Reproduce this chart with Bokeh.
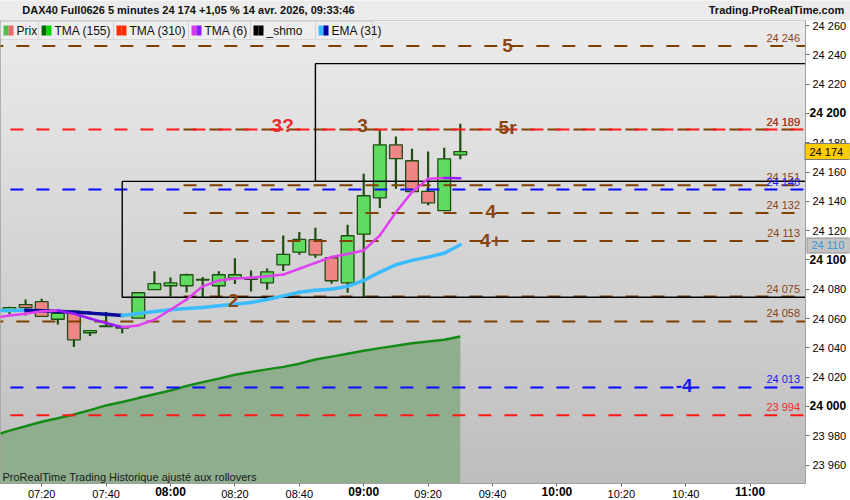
import numpy as np
import pandas as pd
from bokeh.plotting import figure
from bokeh.models import (Range1d, Label, BoxAnnotation, CustomJSTickFormatter,
                          FixedTicker, ColumnDataSource, LinearAxis, DatetimeAxis)
from bokeh.core.properties import value
from bokeh.embed import file_html
from bokeh.resources import INLINE

# ---------------- data ----------------
DAY = "2026-04-14 "
candle_times = ["07:10", "07:15", "07:20", "07:25", "07:30", "07:35", "07:40", "07:45", "07:50", "07:55",
                "08:00", "08:05", "08:10", "08:15", "08:20", "08:25", "08:30", "08:35", "08:40", "08:45",
                "08:50", "08:55", "09:00", "09:05", "09:10", "09:15", "09:20", "09:25", "09:30"]
opens = [24065.0, 24069.5, 24071.5, 24059.5, 24065.0, 24050.3, 24054.5, 24053.5, 24060.3, 24079.7,
         24082.4, 24082.4, 24086.3, 24082.4, 24087.6, 24086.7, 24084.4, 24096.7, 24105.3, 24113.8,
         24101.5, 24084.4, 24117.6, 24142.4, 24178.6, 24167.7, 24146.8, 24133.6, 24171.7]
highs = [24068.0, 24073.0, 24073.5, 24065.0, 24065.5, 24052.0, 24064.5, 24055.0, 24077.6, 24092.2,
         24088.0, 24090.6, 24088.3, 24092.2, 24101.2, 24092.8, 24094.2, 24116.7, 24119.0, 24122.0,
         24101.5, 24124.0, 24158.8, 24188.9, 24184.3, 24175.9, 24174.0, 24176.6, 24193.0]
lows = [24063.0, 24062.0, 24061.5, 24056.0, 24040.5, 24048.0, 24054.5, 24050.0, 24060.3, 24079.7,
        24075.0, 24078.0, 24074.6, 24075.0, 24083.5, 24078.5, 24079.7, 24092.4, 24103.5, 24101.5,
        24083.7, 24077.6, 24074.6, 24135.4, 24148.6, 24146.6, 24137.4, 24133.6, 24168.8]
closes = [24067.5, 24067.5, 24061.5, 24063.5, 24045.5, 24051.7, 24055.0, 24054.2, 24077.6, 24083.8,
          24084.4, 24089.9, 24086.7, 24089.9, 24089.9, 24087.0, 24091.9, 24103.8, 24114.0, 24103.5,
          24085.8, 24116.5, 24143.8, 24178.6, 24169.1, 24146.6, 24139.0, 24169.0, 24174.0]

line_times = ["07:05"] + candle_times
tma6 = [24060.5, 24062.0, 24063.3, 24065.0, 24065.5, 24063.3, 24060.0, 24056.9, 24054.1, 24055.3,
        24059.2, 24066.0, 24073.0, 24082.0, 24086.0, 24087.3, 24087.8, 24088.8, 24090.0, 24094.0,
        24098.0, 24102.0, 24104.0, 24106.5, 24116.7, 24132.6, 24146.3, 24155.4, 24156.0, 24155.8]
ema31 = [24065.4, 24065.5, 24065.6, 24065.3, 24065.0, 24064.3, 24063.7, 24062.9, 24062.1, 24063.5,
         24064.8, 24066.0, 24066.8, 24067.5, 24068.7, 24069.8, 24071.0, 24073.0, 24075.5, 24078.0,
         24079.3, 24080.0, 24082.0, 24086.0, 24091.7, 24096.7, 24099.7, 24101.9, 24104.6, 24110.4]
tma155 = [23980.0, 23983.5, 23986.5, 23989.5, 23992.0, 23994.5, 23997.5, 24000.7, 24003.0, 24005.7,
          24008.3, 24010.9, 24014.0, 24016.6, 24019.0, 24021.6, 24023.5, 24025.3, 24027.0, 24029.1,
          24032.0, 24034.0, 24036.0, 24038.0, 24039.8, 24041.5, 24043.2, 24044.3, 24045.5, 24047.8]

brown_levels = [24246, 24189, 24151, 24132, 24113, 24075, 24058]
brown_starts = ["07:00", "08:00", "08:00", "08:00", "08:00", "08:00", "07:00"]
blue_levels = [24148, 24013]
red_levels = [24189, 23994]

level_label_values = [24189, 24246, 24189, 24151, 24148, 24132, 24113, 24075, 24058, 24013, 23994]
level_label_kind = ["red", "brown", "brown", "brown", "blue", "brown", "brown", "brown", "brown", "blue", "red"]

box_left = ["07:45", "08:45"]
box_top = [24153.6, 24234.0]
box_bottom = [24074.5, 24153.6]

wave_text = ["5", "3?", "3", "5r", "4", "4+", "2", "-4"]
wave_time = ["09:44:40", "08:34:50", "08:59:40", "09:44:40", "09:39:30", "09:39:30", "08:19:30", "10:39:30"]
wave_price = [24246.4, 24191.8, 24191.8, 24190.4, 24133.0, 24113.3, 24072.4, 24014.3]
wave_kind = ["brown", "red", "brown", "brown", "brown", "brown", "brown", "blue"]

y_ticks = list(range(23960, 24261, 20))
x_tick_labels = ["07:20", "07:40", "08:00", "08:20", "08:40", "09:00", "09:20", "09:40",
                 "10:00", "10:20", "10:40", "11:00"]

last_price = 24174
ema_last = 24110
title_text = "DAX40 Full0626 5 minutes 24 174 +1,05 % 14 avr. 2026, 09:33:46"
site_text = "Trading.ProRealTime.com"
legend_items = ["Prix", "TMA (155)", "TMA (310)", "TMA (6)", "_shmo", "EMA (31)"]
legend_swatch = [("#4cc04c", "#e46a6a"), ("#006a00", "#00d800"), ("#ff2a00", "#ff2a00"),
                 ("#d83ce8", "#8a1aff"), ("#000000", "#000000"), ("#3cbcff", "#0000a8")]

# ---------------- helpers ----------------
def T(s):
    return pd.Timestamp(DAY + s)


def ms(ts):
    return ts.value / 1e6


def sp(v):
    return f"{v:,}".replace(",", " ")


COL = {"brown": "#8b4513", "red": "#ee2a2a", "blue": "#1a1af0"}
LINE_COL = {"brown": "#804000", "red": "#ff1a1a", "blue": "#0a0aff"}
FONT = value("Liberation Sans")

FIVE = pd.Timedelta(minutes=5)
t0 = T(candle_times[0])
W_F, H_F = 805, 463
MB_R, MB_T, MB_B = 45, 20, 17
x_start = t0 - 0.56 * FIVE
x_end = x_start + (W_F / 16.1) * FIVE
y_start, y_end = 23947.4, 23947.4 + H_F / 1.465


def SY(py):
    # reference pixel row -> frame-relative screen y (from bottom)
    return H_F - (py - 20)


p = figure(frame_width=W_F, frame_height=H_F, x_axis_type="datetime", y_axis_location="right",
           x_range=Range1d(x_start, x_end), y_range=Range1d(y_start, y_end),
           output_backend="svg", toolbar_location=None,
           min_border_left=0, min_border_right=MB_R, min_border_top=MB_T, min_border_bottom=MB_B)
p.extra_x_ranges = {"hdr": Range1d(0, W_F)}
p.grid.visible = False
p.outline_line_color = "#a0a0a0"
p.border_fill_color = "white"
p.background_fill_color = "#d6d6d6"

# background gradient
N = 200
img = np.empty((N, 1), dtype=np.uint32)
view = img.view(dtype=np.uint8).reshape((N, 1, 4))
top_c = np.array([236, 236, 236])
bot_c = np.array([190, 190, 190])
for i in range(N):
    f = i / (N - 1)
    c = bot_c + f * (top_c - bot_c)
    view[i, 0, 0:3] = c.astype(np.uint8)
    view[i, 0, 3] = 255
p.image_rgba(image=[img], x=ms(x_start), y=y_start, dw=ms(x_end) - ms(x_start), dh=y_end - y_start)

# TMA 155 area + line
lt = [T(s) for s in line_times]
p.varea(x=lt, y1=[y_start - 50] * len(lt), y2=tma155, fill_color="#8fae8e")
p.line(x=lt, y=tma155, line_color="#168a16", line_width=2.5)

# candles
ct = [T(s) for s in candle_times]
up = [c >= o for o, c in zip(opens, closes)]
src = ColumnDataSource(dict(
    t=ct, o=opens, h=highs, l=lows, c=closes,
    top=[max(o, c) for o, c in zip(opens, closes)],
    bottom=[min(o, c) for o, c in zip(opens, closes)],
    color=["#5fdc5f" if u else "#f08585" for u in up]))
p.segment(x0="t", y0="l", x1="t", y1="h", source=src, line_color="#1f4f10", line_width=2.2)
p.vbar(x="t", width=0.79 * 300000, top="top", bottom="bottom", source=src,
       fill_color="color", line_color="#1f4f10", line_width=1.3)

# horizontal levels
p.segment(x0=[T(s) for s in brown_starts], x1=[x_end] * len(brown_levels),
          y0=brown_levels, y1=brown_levels, line_color=LINE_COL["brown"], line_width=2,
          line_dash="13 13", line_dash_offset=13)
p.segment(x0=[x_start - FIVE] * len(blue_levels), x1=[x_end] * len(blue_levels),
          y0=blue_levels, y1=blue_levels, line_color=LINE_COL["blue"], line_width=2, line_dash="13 13")
p.segment(x0=[x_start - FIVE] * len(red_levels), x1=[x_end] * len(red_levels),
          y0=red_levels, y1=red_levels, line_color=LINE_COL["red"], line_width=2, line_dash="13 13")

# _shmo boxes
p.quad(left=[T(s) for s in box_left], right=[x_end + FIVE] * len(box_left), top=box_top, bottom=box_bottom,
       fill_alpha=0, line_color="black", line_width=1.4)

# EMA 31 (light when rising, dark when falling)
ema_col = ["#3cbcff" if b >= a else "#0a0a9a" for a, b in zip(ema31[:-1], ema31[1:])]
p.segment(x0=lt[:-1], x1=lt[1:], y0=ema31[:-1], y1=ema31[1:], line_color=ema_col,
          line_width=3.5, line_cap="round")
# TMA 6
tma_col = ["#e040f0" if b >= a else "#9a1aff" for a, b in zip(tma6[:-1], tma6[1:])]
p.segment(x0=lt[:-1], x1=lt[1:], y0=tma6[:-1], y1=tma6[1:], line_color=tma_col,
          line_width=2.5, line_cap="round")

# level labels near right edge
label_x = t0 + 49.1 * FIVE
p.text(x=[label_x] * len(level_label_values), y=level_label_values,
       text=[sp(v) for v in level_label_values],
       text_color=[COL[k] for k in level_label_kind], text_font=FONT, text_font_size="11px",
       text_align="right", text_baseline="bottom", y_offset=-2)

# wave labels
p.text(x=[T(s) for s in wave_time], y=wave_price, text=wave_text,
       text_color=[COL[k] for k in wave_kind], text_font=FONT, text_font_style="bold",
       text_font_size="19px", text_align="center", text_baseline="middle")

# ---------------- axes ----------------
FMT_Y = """
const v = Math.round(tick);
if (blank) return "";
if (blank_round && v % 100 == 0) return "";
const s = String(v);
return s.slice(0, s.length - 3) + " " + s.slice(s.length - 3);
"""
FMT_X = """
const d = new Date(tick);
const h = d.getUTCHours(), m = d.getUTCMinutes();
if (blank_round && m == 0) return "";
const pad = (n) => (n < 10 ? "0" : "") + n;
return pad(h) + ":" + pad(m);
"""


def yfmt(blank=False, blank_round=False):
    return CustomJSTickFormatter(args=dict(blank=blank, blank_round=blank_round), code=FMT_Y)


def plain_axis(ax):
    ax.axis_line_color = None
    ax.major_tick_line_color = None
    ax.minor_tick_line_color = None
    ax.major_tick_out = 0
    ax.major_tick_in = 0
    ax.major_label_text_font = "Liberation Sans"
    ax.major_label_text_color = "black"


# main right axis (normal labels)
ya = p.yaxis[0]
ya.ticker = FixedTicker(ticks=y_ticks)
ya.formatter = yfmt(blank_round=True)
ya.major_label_text_font = "Liberation Sans"
ya.major_label_text_font_size = "11px"
ya.major_label_text_color = "#000000"
ya.major_tick_out = 4
ya.major_tick_in = 0
ya.minor_tick_line_color = None
ya.major_label_standoff = 3
ya.axis_line_color = "#a0a0a0"
ya.major_tick_line_color = "#707070"

# bold round-number labels, pulled back over the main axis
yb = LinearAxis(ticker=FixedTicker(ticks=[v for v in y_ticks if v % 100 == 0]), formatter=yfmt())
plain_axis(yb)
yb.major_label_text_font_size = "12px"
yb.major_label_text_font_style = "bold"
yb.major_label_standoff = -40
p.add_layout(yb, "right")


def price_tag(val, fill, border, text_color, h, reach):
    # border box (wide inward tick), then filled box + label
    brd = LinearAxis(ticker=FixedTicker(ticks=[val]), formatter=yfmt(blank=True))
    plain_axis(brd)
    brd.major_tick_line_color = border
    brd.major_tick_line_width = h + 2
    brd.major_tick_in = reach + 1
    brd.major_label_standoff = 0
    p.add_layout(brd, "right")
    tag = LinearAxis(ticker=FixedTicker(ticks=[val]), formatter=yfmt())
    plain_axis(tag)
    tag.major_tick_line_color = fill
    tag.major_tick_line_width = h
    tag.major_tick_in = reach
    tag.major_label_text_font_size = "11px"
    tag.major_label_text_color = text_color
    tag.major_label_standoff = -40 if reach > 43 else -38
    p.add_layout(tag, "right")


price_tag(last_price, "#ffcc00", "#7a7a7a", "#000000", 15, 44)
price_tag(ema_last, "#c4c4c4", "#909090", "#2f9ad8", 14, 42)

# x axis (normal labels)
xa = p.xaxis[0]
x_tick_ts = [T(s) for s in x_tick_labels]
xa.ticker = FixedTicker(ticks=[ms(t) for t in x_tick_ts])
xa.formatter = CustomJSTickFormatter(args=dict(blank_round=True), code=FMT_X)
xa.major_label_text_font = "Liberation Sans"
xa.major_label_text_font_size = "11px"
xa.major_label_text_color = "#000000"
xa.major_tick_out = 3
xa.major_tick_in = 0
xa.minor_tick_line_color = None
xa.major_label_standoff = 1
xa.axis_line_color = "#a0a0a0"
xa.major_tick_line_color = "#707070"

# bold full hours, pulled back up
xb = DatetimeAxis(ticker=FixedTicker(ticks=[ms(t) for s, t in zip(x_tick_labels, x_tick_ts) if s.endswith(":00")]),
                  formatter=CustomJSTickFormatter(args=dict(blank_round=False), code=FMT_X))
plain_axis(xb)
xb.major_label_text_font_size = "12px"
xb.major_label_text_font_style = "bold"
xb.major_label_standoff = -18
p.add_layout(xb, "below")

# header line as an axis above the frame (wide ticks paint the header band)
hdr = LinearAxis(x_range_name="hdr", ticker=FixedTicker(ticks=[188, 776]),
                 formatter=CustomJSTickFormatter(args=dict(labels=[title_text, site_text]),
                                                 code="return labels[index];"))
plain_axis(hdr)
hdr.major_tick_out = 20
hdr.major_tick_line_color = "#ececec"
hdr.major_tick_line_width = 900
hdr.major_label_text_font_size = "11px"
hdr.major_label_text_font_style = "bold"
hdr.major_label_text_color = "#111111"
hdr.major_label_standoff = -15
p.add_layout(hdr, "above")

# legend strip
edges = [0, 38, 113, 188, 250, 315, 372]
for i, name in enumerate(legend_items):
    l, r = edges[i], edges[i + 1]
    p.add_layout(BoxAnnotation(left=l, right=r, bottom=SY(39), top=SY(21),
                               left_units="screen", right_units="screen", bottom_units="screen",
                               top_units="screen", fill_color="#eeeeee", fill_alpha=1,
                               line_color="#a8a8a8", line_width=1))
    c1, c2 = legend_swatch[i]
    p.add_layout(BoxAnnotation(left=l + 3, right=l + 8, bottom=SY(35), top=SY(25),
                               left_units="screen", right_units="screen", bottom_units="screen",
                               top_units="screen", fill_color=c1, fill_alpha=1, line_color=None))
    p.add_layout(BoxAnnotation(left=l + 8, right=l + 13, bottom=SY(35), top=SY(25),
                               left_units="screen", right_units="screen", bottom_units="screen",
                               top_units="screen", fill_color=c2, fill_alpha=1, line_color=None))
    p.add_layout(Label(x=l + 16, y=SY(30), x_units="screen", y_units="screen", text=name,
                       text_baseline="middle", text_font="Liberation Sans", text_font_size="12px",
                       text_color="#111111"))

# footer text
p.add_layout(Label(x=2, y=SY(476), x_units="screen", y_units="screen",
                   text="ProRealTime Trading  Historique ajusté aux rollovers",
                   text_baseline="middle", text_font="Liberation Sans", text_font_size="11px",
                   text_color="#1a1a1a"))

open("out.html", "w").write(file_html(p, INLINE))
